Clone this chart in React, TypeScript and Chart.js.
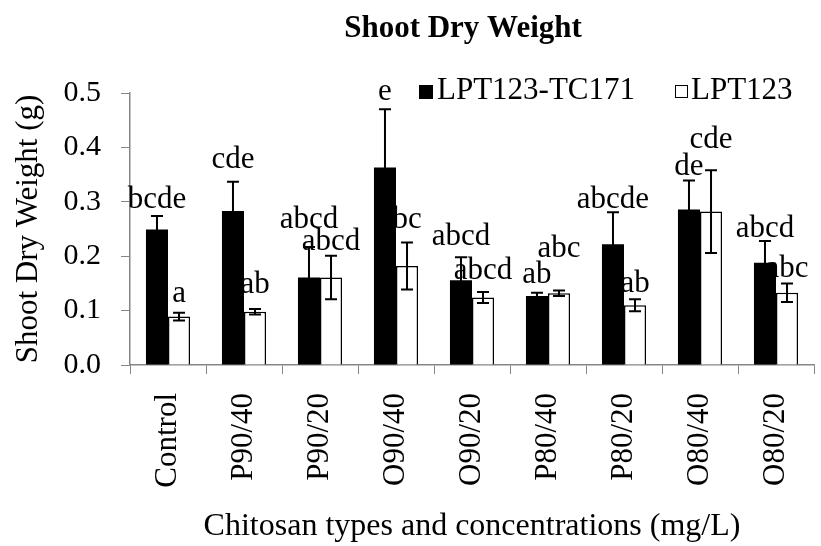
import React, { useEffect, useRef } from "react";
import { Chart, registerables } from "chart.js";

Chart.register(...registerables);

const chartTitle = "Shoot Dry Weight";
const yAxisTitle = "Shoot Dry Weight (g)";
const xAxisTitle = "Chitosan types and concentrations (mg/L)";
const categories = ["Control", "P90/40", "P90/20", "O90/40", "O90/20", "P80/40", "P80/20", "O80/40", "O80/20"];
const seriesNames = ["LPT123-TC171", "LPT123"];
const hybridValues = [0.249, 0.283, 0.161, 0.363, 0.156, 0.127, 0.222, 0.286, 0.188];
const hybridErrors = [0.025, 0.054, 0.056, 0.107, 0.042, 0.006, 0.059, 0.053, 0.040];
const parentValues = [0.089, 0.098, 0.161, 0.182, 0.124, 0.132, 0.110, 0.282, 0.133];
const parentErrors = [0.007, 0.005, 0.040, 0.043, 0.010, 0.005, 0.011, 0.076, 0.017];
const hybridLetters = ["bcde", "cde", "abcd", "e", "abcd", "ab", "abcde", "de", "abcd"];
const parentLetters = ["a", "ab", "abcd", "bc", "abcd", "abc", "ab", "cde", "abc"];
const hybridLetterAt = [0.288, 0.363, 0.251, 0.487, 0.221, 0.150, 0.288, 0.349, 0.236];
const parentLetterAt = [0.115, 0.132, 0.211, 0.251, 0.159, 0.199, 0.135, 0.398, 0.162];
const yMin = 0;
const yMax = 0.5;
const yStep = 0.1;

const FONT = "'Liberation Serif', 'Times New Roman', serif";
const AXIS_GRAY = "#868686";

const errors = [hybridErrors, parentErrors];
const letters = [hybridLetters, parentLetters];
const letterAt = [hybridLetterAt, parentLetterAt];

const overlayPlugin = {
  id: "overlay",
  afterDatasetsDraw(chart: any) {
    const ctx = chart.ctx;
    const yScale = chart.scales.y;
    ctx.save();
    // error bars
    chart.data.datasets.forEach((ds: any, di: number) => {
      const meta = chart.getDatasetMeta(di);
      meta.data.forEach((bar: any, i: number) => {
        const v = ds.data[i];
        const e = errors[di][i];
        const x = bar.x;
        const yt = yScale.getPixelForValue(v + e);
        const yb = yScale.getPixelForValue(v - e);
        ctx.strokeStyle = "#000";
        ctx.lineWidth = 2;
        ctx.beginPath();
        ctx.moveTo(x, yt);
        ctx.lineTo(x, yb);
        ctx.moveTo(x - 6, yt);
        ctx.lineTo(x + 6, yt);
        ctx.moveTo(x - 6, yb);
        ctx.lineTo(x + 6, yb);
        ctx.stroke();
      });
    });
    // significance letters
    ctx.fillStyle = "#000";
    ctx.font = `31px ${FONT}`;
    ctx.textAlign = "center";
    ctx.textBaseline = "alphabetic";
    chart.data.datasets.forEach((ds: any, di: number) => {
      const meta = chart.getDatasetMeta(di);
      meta.data.forEach((bar: any, i: number) => {
        ctx.fillText(letters[di][i], bar.x, yScale.getPixelForValue(letterAt[di][i]));
      });
    });
    ctx.restore();
  },
  afterDraw(chart: any) {
    const ctx = chart.ctx;
    ctx.save();
    // title
    ctx.fillStyle = "#000";
    ctx.font = `bold 31px ${FONT}`;
    ctx.textAlign = "center";
    ctx.textBaseline = "alphabetic";
    ctx.fillText(chartTitle, 463, 37);
    // legend
    ctx.font = `31px ${FONT}`;
    ctx.textAlign = "left";
    ctx.fillStyle = "#000";
    ctx.fillRect(419, 85, 14, 14);
    ctx.fillText(seriesNames[0], 437, 99);
    ctx.fillStyle = "#fff";
    ctx.fillRect(675, 85, 13, 13);
    ctx.strokeStyle = "#000";
    ctx.lineWidth = 1;
    ctx.strokeRect(675.5, 85.5, 12, 12);
    ctx.fillStyle = "#000";
    ctx.fillText(seriesNames[1], 691, 99);
    ctx.restore();
  },
};

export default function App() {
  const ref = useRef<HTMLCanvasElement | null>(null);

  useEffect(() => {
    if (!ref.current) return;
    const chart = new Chart(ref.current, {
      type: "bar",
      data: {
        labels: categories,
        datasets: [
          {
            label: seriesNames[0],
            data: hybridValues,
            backgroundColor: "#000000",
            borderColor: "#000000",
            borderWidth: 0,
            barPercentage: 1,
            categoryPercentage: 0.58,
          },
          {
            label: seriesNames[1],
            data: parentValues,
            backgroundColor: "#ffffff",
            borderColor: "#000000",
            borderWidth: 1.5,
            barPercentage: 1,
            categoryPercentage: 0.58,
          },
        ],
      },
      options: {
        responsive: false,
        animation: false,
        devicePixelRatio: 1,
        layout: { padding: { top: 93, right: 7, bottom: 0, left: 0 } },
        plugins: {
          legend: { display: false },
          title: { display: false },
          tooltip: { enabled: false },
        },
        scales: {
          x: {
            afterFit: (scale: any) => {
              scale.height = 181;
              scale.paddingLeft = 0;
              scale.paddingRight = 0;
            },
            grid: {
              display: true,
              offset: true,
              drawOnChartArea: false,
              drawTicks: true,
              tickLength: 9,
              color: AXIS_GRAY,
              lineWidth: 1,
            },
            border: { display: true, color: AXIS_GRAY, width: 1.5 },
            ticks: {
              color: "#000",
              font: { family: FONT, size: 31 },
              maxRotation: 90,
              minRotation: 90,
              padding: 19,
              autoSkip: false,
            },
            title: {
              display: true,
              text: xAxisTitle,
              color: "#000",
              font: { family: FONT, size: 32 },
              padding: { top: 0, bottom: 0 },
            },
          },
          y: {
            min: yMin,
            max: yMax,
            afterFit: (scale: any) => {
              scale.width = 130;
            },
            grid: {
              display: true,
              drawOnChartArea: false,
              drawTicks: true,
              tickLength: 9,
              color: AXIS_GRAY,
              lineWidth: 1,
            },
            border: { display: true, color: AXIS_GRAY, width: 1.5 },
            ticks: {
              stepSize: yStep,
              color: "#000",
              font: { family: FONT, size: 30 },
              padding: 20,
              callback: (v: any) => Number(v).toFixed(1),
            },
            title: {
              display: true,
              text: yAxisTitle,
              color: "#000",
              font: { family: FONT, size: 31 },
              padding: { top: 10, bottom: 0 },
            },
          },
        },
      },
      plugins: [overlayPlugin],
    });
    return () => chart.destroy();
  }, []);

  return (
    <div style={{ position: "absolute", left: 0, top: 0, width: 821, height: 546, background: "#fff" }}>
      <canvas ref={ref} width={821} height={546} style={{ display: "block", width: 821, height: 546 }} />
    </div>
  );
}
